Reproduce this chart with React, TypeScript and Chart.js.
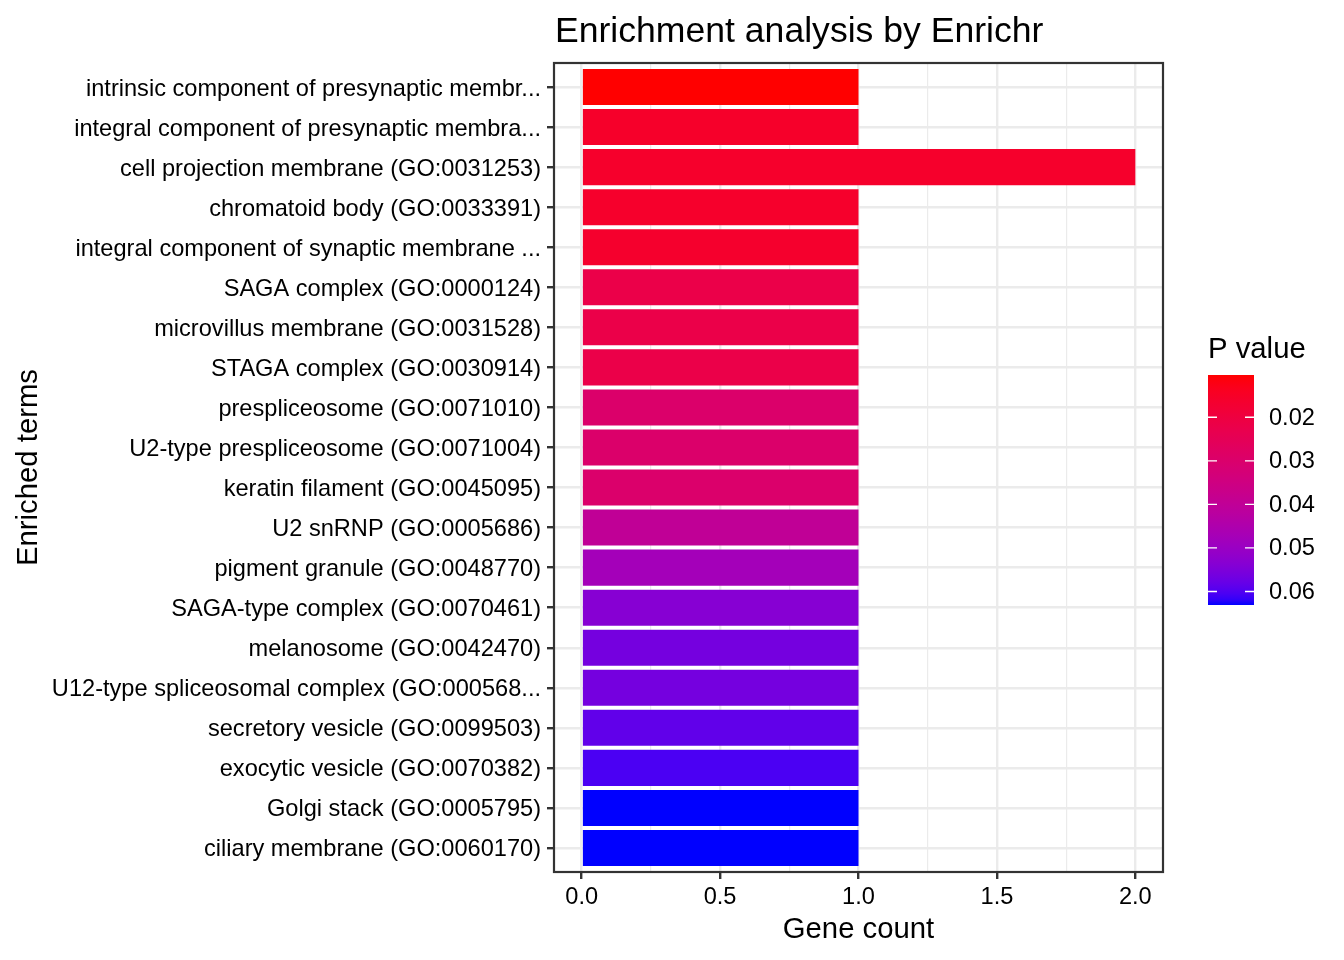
import React, { useEffect, useRef } from "react";
import { Chart, registerables } from "chart.js";

Chart.register(...registerables);

// ---------------- data ----------------
const terms: string[] = [
  "intrinsic component of presynaptic membr...",
  "integral component of presynaptic membra...",
  "cell projection membrane (GO:0031253)",
  "chromatoid body (GO:0033391)",
  "integral component of synaptic membrane ...",
  "SAGA complex (GO:0000124)",
  "microvillus membrane (GO:0031528)",
  "STAGA complex (GO:0030914)",
  "prespliceosome (GO:0071010)",
  "U2-type prespliceosome (GO:0071004)",
  "keratin filament (GO:0045095)",
  "U2 snRNP (GO:0005686)",
  "pigment granule (GO:0048770)",
  "SAGA-type complex (GO:0070461)",
  "melanosome (GO:0042470)",
  "U12-type spliceosomal complex (GO:000568...",
  "secretory vesicle (GO:0099503)",
  "exocytic vesicle (GO:0070382)",
  "Golgi stack (GO:0005795)",
  "ciliary membrane (GO:0060170)",
];

const geneCounts: number[] = [1, 1, 2, 1, 1, 1, 1, 1, 1, 1, 1, 1, 1, 1, 1, 1, 1, 1, 1, 1];

const pValues: number[] = [
  0.0103, 0.0155, 0.016, 0.016, 0.0161, 0.022, 0.022, 0.0221, 0.0297, 0.0297,
  0.0298, 0.0399, 0.0478, 0.0536, 0.0562, 0.0562, 0.0586, 0.0605, 0.0631, 0.0631,
];

const legendTicks: number[] = [0.02, 0.03, 0.04, 0.05, 0.06];

const TITLE = "Enrichment analysis by Enrichr";
const X_TITLE = "Gene count";
const Y_TITLE = "Enriched terms";
const LEGEND_TITLE = "P value";

const LOW_COLOR = "#FF0000";
const HIGH_COLOR = "#0000FF";

// ---------------- colour (Lab interpolation like ggplot) ----------------
const Xn = 0.95047, Yn = 1.0, Zn = 1.08883;
function hexToRgb(h: string): number[] {
  const s = h.replace("#", "");
  return [0, 2, 4].map((i) => parseInt(s.slice(i, i + 2), 16));
}
function s2l(c: number) {
  const v = c / 255;
  return v <= 0.04045 ? v / 12.92 : Math.pow((v + 0.055) / 1.055, 2.4);
}
function l2s(c: number) {
  const v = c <= 0.0031308 ? 12.92 * c : 1.055 * Math.pow(c, 1 / 2.4) - 0.055;
  return Math.round(Math.max(0, Math.min(1, v)) * 255);
}
function fLab(t: number) {
  return t > 216 / 24389 ? Math.cbrt(t) : ((24389 / 27) * t + 16) / 116;
}
function fInv(t: number) {
  const t3 = t * t * t;
  return t3 > 216 / 24389 ? t3 : (116 * t - 16) / (24389 / 27);
}
function rgbToLab(rgb: number[]): number[] {
  const [r, g, b] = rgb.map(s2l);
  const X = (0.4124564 * r + 0.3575761 * g + 0.1804375 * b) / Xn;
  const Y = (0.2126729 * r + 0.7151522 * g + 0.072175 * b) / Yn;
  const Z = (0.0193339 * r + 0.119192 * g + 0.9503041 * b) / Zn;
  const fx = fLab(X), fy = fLab(Y), fz = fLab(Z);
  return [116 * fy - 16, 500 * (fx - fy), 200 * (fy - fz)];
}
function labToRgbStr(lab: number[]): string {
  const [L, a, bb] = lab;
  const fy = (L + 16) / 116;
  const fx = fy + a / 500;
  const fz = fy - bb / 200;
  const X = fInv(fx) * Xn, Y = fInv(fy) * Yn, Z = fInv(fz) * Zn;
  const r = 3.2404542 * X - 1.5371385 * Y - 0.4985314 * Z;
  const g = -0.969266 * X + 1.8760108 * Y + 0.041556 * Z;
  const b = 0.0556434 * X - 0.2040259 * Y + 1.0572252 * Z;
  return `rgb(${l2s(r)}, ${l2s(g)}, ${l2s(b)})`;
}
const labLow = rgbToLab(hexToRgb(LOW_COLOR));
const labHigh = rgbToLab(hexToRgb(HIGH_COLOR));
function rampColor(t: number): string {
  const u = Math.max(0, Math.min(1, t));
  return labToRgbStr(labLow.map((v, i) => v + (labHigh[i] - v) * u));
}

const pMin = Math.min(...pValues);
const pMax = Math.max(...pValues);
const colorFor = (p: number) => rampColor((p - pMin) / (pMax - pMin));

// ---------------- styling ----------------
const FONT = "'Liberation Sans', Arial, Helvetica, sans-serif";
const GRID = "#EBEBEB";
const DARK = "#333333";

const isMajor = (v: number) => Math.abs(v * 2 - Math.round(v * 2)) < 1e-6;

export default function App() {
  const canvasRef = useRef<HTMLCanvasElement | null>(null);

  useEffect(() => {
    const canvas = canvasRef.current;
    if (!canvas) return;

    const overlay = {
      id: "ggOverlay",
      afterDraw(chart: any) {
        const ctx = chart.ctx as CanvasRenderingContext2D;
        const area = chart.chartArea;
        ctx.save();
        // panel border
        ctx.strokeStyle = DARK;
        ctx.lineWidth = 2.2;
        ctx.strokeRect(area.left, area.top, area.right - area.left, area.bottom - area.top);

        // title
        ctx.fillStyle = "#000";
        ctx.font = `35.6px ${FONT}`;
        ctx.textAlign = "left";
        ctx.textBaseline = "alphabetic";
        ctx.fillText(TITLE, area.left + 1, 42);

        // x title
        ctx.font = `29.3px ${FONT}`;
        ctx.textAlign = "center";
        ctx.fillText(X_TITLE, (area.left + area.right) / 2, 938);

        // y title
        ctx.save();
        ctx.translate(37, (area.top + area.bottom) / 2);
        ctx.rotate(-Math.PI / 2);
        ctx.textAlign = "center";
        ctx.fillText(Y_TITLE, 0, 0);
        ctx.restore();

        // legend
        const lx = 1208, lw = 46, ly = 375, lh = 230;
        ctx.textAlign = "left";
        ctx.font = `29.3px ${FONT}`;
        ctx.fillText(LEGEND_TITLE, lx, 358);

        const grad = ctx.createLinearGradient(0, ly, 0, ly + lh);
        const N = 40;
        for (let i = 0; i <= N; i++) grad.addColorStop(i / N, rampColor(i / N));
        ctx.fillStyle = grad;
        ctx.fillRect(lx, ly, lw, lh);

        ctx.strokeStyle = "#FFFFFF";
        ctx.lineWidth = 1.3;
        ctx.font = `23.6px ${FONT}`;
        ctx.fillStyle = "#000";
        ctx.textBaseline = "middle";
        legendTicks.forEach((p) => {
          const y = ly + ((p - pMin) / (pMax - pMin)) * lh;
          ctx.beginPath();
          ctx.moveTo(lx, y);
          ctx.lineTo(lx + 9, y);
          ctx.moveTo(lx + lw - 9, y);
          ctx.lineTo(lx + lw, y);
          ctx.stroke();
          ctx.fillText(p.toFixed(2), 1269, y + 1);
        });
        ctx.restore();
      },
    };

    const chart = new Chart(canvas, {
      type: "bar",
      data: {
        datasets: [
          {
            data: terms.map((_, i) => ({ x: geneCounts[i], y: i })) as any,
            backgroundColor: pValues.map(colorFor),
            borderWidth: 0,
            barPercentage: 0.9,
            categoryPercentage: 1,
          },
        ],
      },
      options: {
        indexAxis: "y",
        animation: false,
        responsive: false,
        devicePixelRatio: 1,
        layout: { padding: { left: 0, top: 63, right: 181, bottom: 0 } },
        plugins: {
          legend: { display: false },
          tooltip: { enabled: false },
          title: { display: false },
        },
        scales: {
          x: {
            type: "linear",
            position: "bottom",
            min: -0.1,
            max: 2.1,
            offset: false,
            border: { display: false },
            grid: {
              offset: false,
              color: GRID,
              lineWidth: (c: any) => (c.tick && isMajor(c.tick.value) ? 2.4 : 1.2),
              tickLength: 7,
              tickColor: (c: any) => (c.tick && isMajor(c.tick.value) ? DARK : "rgba(0,0,0,0)"),
              tickWidth: 2.4,
            },
            ticks: {
              stepSize: 0.25,
              includeBounds: false,
              autoSkip: false,
              maxRotation: 0,
              color: "#000",
              padding: 4,
              font: { family: FONT, size: 23.6 },
              callback: (v: any) => (isMajor(Number(v)) ? Number(v).toFixed(1) : ""),
            },
            afterFit: (s: any) => {
              s.height = 88;
            },
          },
          y: {
            type: "linear",
            min: -0.6,
            max: 19.6,
            reverse: true,
            offset: false,
            border: { display: false },
            grid: {
              offset: false,
              color: GRID,
              lineWidth: 2.4,
              tickLength: 7,
              tickColor: DARK,
              tickWidth: 2.4,
            },
            ticks: {
              stepSize: 1,
              includeBounds: false,
              autoSkip: false,
              color: "#000",
              padding: 6,
              labelOffset: 2,
              font: { family: FONT, size: 23.6 },
              callback: (v: any) => terms[Math.round(Number(v))] ?? "",
            },
            afterFit: (s: any) => {
              s.width = 554;
            },
          },
        },
      },
      plugins: [overlay],
    } as any);

    return () => chart.destroy();
  }, []);

  return (
    <div style={{ position: "absolute", left: 0, top: 0, width: 1344, height: 960, background: "#fff" }}>
      <canvas ref={canvasRef} width={1344} height={960} style={{ width: 1344, height: 960, display: "block" }} />
    </div>
  );
}
